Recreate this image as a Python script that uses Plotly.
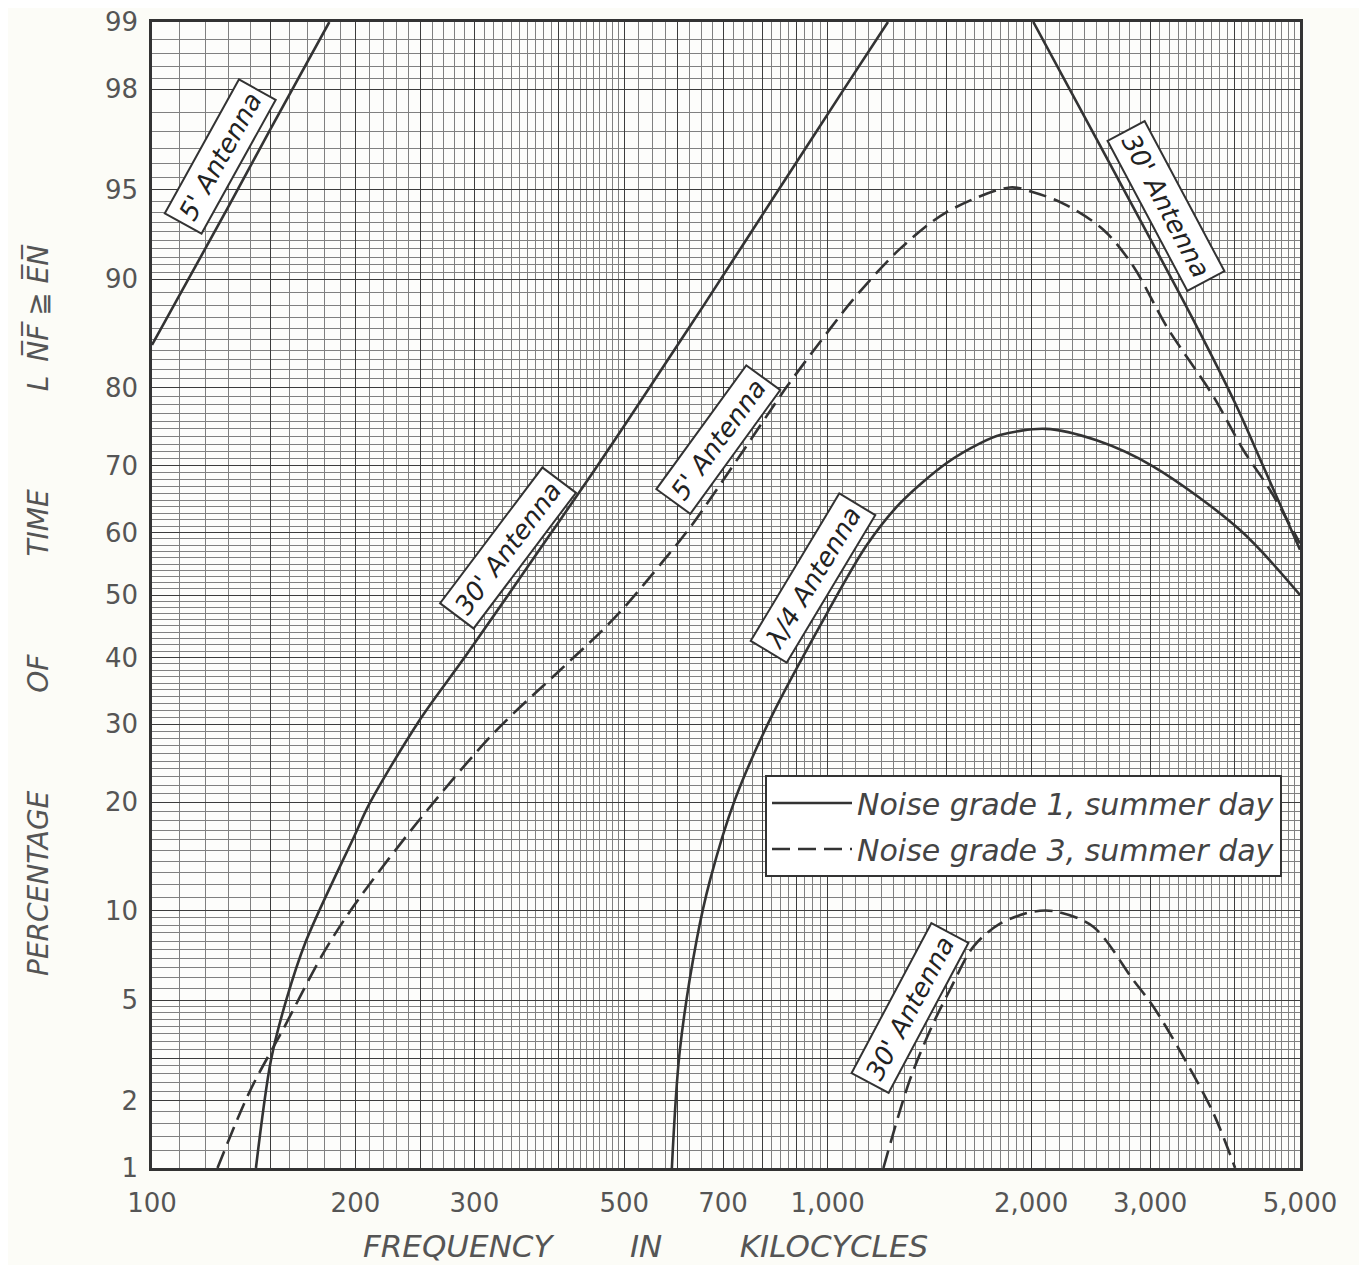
import math
from statistics import NormalDist
import plotly.graph_objects as go

# ---------------- data ----------------
# frequency in kc, percentage of time
ant5_g1_f = [100, 130, 150, 183]
ant5_g1_p = [84.5, 94.3, 97.1, 99.0]

ant30_g1_rise_f = [142.5, 150, 158, 169, 199, 210, 249, 292, 390, 460, 558, 655, 837, 1057, 1228]
ant30_g1_rise_p = [1.0, 2.95, 5.0, 8.0, 16.3, 19.9, 30.6, 40.4, 60.0, 70.5, 81.2, 88.0, 94.8, 98.0, 99.0]
ant30_g1_fall_f = [2015, 2529, 3476, 4030, 4413, 5000]
ant30_g1_fall_p = [99.0, 96.6, 86.8, 77.8, 69.9, 57.3]

ant5_g3_f = [125, 139.6, 156.4, 179.3, 198.6, 246.4, 320, 401.6, 460, 500, 571, 625.6, 750, 869.6, 1008, 1091,
             1279, 1500, 1861, 2015, 2232, 2558, 2833, 3175, 3722, 4122, 4514, 5000]
ant5_g3_p = [1.0, 2.2, 3.9, 7.3, 10.3, 17.7, 28.7, 38.0, 43.9, 48.0, 55.5, 60.8, 72.1, 80.1, 86.0, 88.5,
             92.0, 94.0, 95.1, 94.9, 94.4, 93.1, 90.9, 86.2, 79.0, 72.2, 66.5, 58.3]

quarter_g1_f = [588, 604, 640, 670, 729, 821, 997, 1142, 1279, 1500, 1680, 1799, 2100, 2500, 3034, 4076, 5000]
quarter_g1_p = [1.0, 3.2, 8.1, 12.4, 20.3, 30.6, 47.0, 58.0, 64.5, 70.4, 73.1, 74.2, 75.0, 73.5, 69.9, 60.4, 50.0]

ant30_g3_f = [1209, 1323, 1433, 1517, 1643, 1799, 2015, 2182, 2472, 2833, 3034, 3360, 3722, 4008]
ant30_g3_p = [1.0, 2.45, 4.1, 5.45, 7.67, 9.1, 9.93, 9.93, 8.9, 5.9, 4.73, 3.04, 1.77, 1.0]

x_major = [100, 150, 200, 250, 300, 400, 500, 600, 700, 800, 900, 1000, 1500, 2000, 3000, 4000, 5000]
x_labels = ["100", "", "200", "", "300", "", "500", "", "700", "", "", "1,000", "", "2,000", "3,000", "", "5,000"]
y_major = [1, 2, 3, 5, 10, 20, 30, 40, 50, 60, 70, 80, 90, 95, 98, 99]
y_labels = ["1", "2", "", "5", "10", "20", "30", "40", "50", "60", "70", "80", "90", "95", "98", "99"]

label_solid = "Noise grade 1, summer day"
label_dashed = "Noise grade 3, summer day"

# ---------------- helpers ----------------
ND = NormalDist()


def zscale(p):
    return ND.inv_cdf(p / 100.0)


def frange(a, b, step):
    out = []
    n = int(round((b - a) / step))
    for i in range(1, n):
        out.append(round(a + i * step, 4))
    return out


x_minor = (frange(100, 200, 10) + frange(200, 300, 10) + frange(300, 500, 10) +
           frange(500, 1000, 25) + frange(1000, 2000, 50) + frange(2000, 5000, 100))
x_minor = [v for v in x_minor if v not in x_major]
y_minor = (frange(1, 2, 0.2) + frange(2, 3, 0.2) + frange(3, 5, 0.25) + frange(5, 10, 0.5) +
           frange(10, 90, 1) + frange(90, 95, 0.5) + frange(95, 98, 0.5) + frange(98, 99, 0.2))
y_minor = [v for v in y_minor if v not in y_major]

INK = "#333333"
PAPER = "#fcfcf7"
FONT = "DejaVu Sans"

fig = go.Figure()


def add_curve(f, p, dash, name, show):
    fig.add_trace(go.Scatter(
        x=f, y=[zscale(v) for v in p], mode="lines", name=name,
        legendgroup=name, showlegend=show,
        line=dict(color=INK, width=2.6, dash=dash, shape="spline", smoothing=0.9),
        hoverinfo="skip"))


SOLID = "solid"
DASH = "18px,8px"
add_curve(ant5_g1_f, ant5_g1_p, SOLID, label_solid, True)
add_curve(ant30_g1_rise_f, ant30_g1_rise_p, SOLID, label_solid, False)
add_curve(ant30_g1_fall_f, ant30_g1_fall_p, SOLID, label_solid, False)
add_curve(quarter_g1_f, quarter_g1_p, SOLID, label_solid, False)
add_curve(ant5_g3_f, ant5_g3_p, DASH, label_dashed, True)
add_curve(ant30_g3_f, ant30_g3_p, DASH, label_dashed, False)

# ---------------- axes ----------------
TICKFONT = dict(family=FONT, size=26, color="#555555")
EPS = 1e-6
fig.update_xaxes(
    type="log", range=[math.log10(100) - EPS, math.log10(5000) + EPS],
    tickmode="array", tickvals=x_major, ticktext=x_labels,
    ticks="", showgrid=True, gridcolor="#3c3c3c", gridwidth=1.3,
    minor=dict(tickmode="array", tickvals=x_minor, showgrid=True, gridcolor="#808080", gridwidth=0.6, ticks=""),
    showline=True, mirror=True, linecolor=INK, linewidth=2.5,
    tickfont=TICKFONT, ticklabelstandoff=10, zeroline=False, ticklabeloverflow="allow",
    automargin=False,
)
fig.update_yaxes(
    range=[zscale(1) - EPS, zscale(99) + EPS],
    tickmode="array", tickvals=[zscale(v) for v in y_major], ticktext=y_labels,
    ticks="", showgrid=True, gridcolor="#3c3c3c", gridwidth=1.3,
    minor=dict(tickmode="array", tickvals=[zscale(v) for v in y_minor], showgrid=True,
               gridcolor="#808080", gridwidth=0.6, ticks=""),
    showline=True, mirror=True, linecolor=INK, linewidth=2.5,
    tickfont=TICKFONT, ticklabelstandoff=6, zeroline=False, ticklabeloverflow="allow",
    automargin=False,
)

# ---------------- labels ----------------
# plot area in screen pixels (page has an 8px body margin)
PLOT_L, PLOT_T, PLOT_W, PLOT_H = 152, 22, 1148, 1146


def px2paper(px, py):
    return (px - PLOT_L) / PLOT_W, (PLOT_T + PLOT_H - py) / PLOT_H


def box_label(text, px, py, angle):
    xp, yp = px2paper(px, py)
    fig.add_annotation(
        x=xp, y=yp, xref="paper", yref="paper", xanchor="center", yanchor="middle",
        text=text, showarrow=False,
        textangle=angle, font=dict(family=FONT, size=26, color="#222222", style="italic"),
        bgcolor="white", bordercolor=INK, borderwidth=2, borderpad=5)


box_label("5' Antenna", 220, 157, -61)
box_label("30' Antenna", 508, 548, -53)
box_label("5' Antenna", 718, 440, -54)
box_label("\u03bb/4 Antenna", 813, 578, -59)
box_label("30' Antenna", 1166, 206, 62)
box_label("30' Antenna", 910, 1008, -62)

# axis titles
GAP_X = "\u2003\u2003\u2002"
xp, yp = px2paper(645, 1246)
fig.add_annotation(x=xp, y=yp, xref="paper", yref="paper", xanchor="center", yanchor="middle",
                   showarrow=False,
                   text="FREQUENCY" + GAP_X + "IN" + GAP_X + "KILOCYCLES",
                   font=dict(family=FONT, size=31, color="#555555", style="italic"))
GAP_Y = "\u2003\u2003\u2003\u2002"
xp, yp = px2paper(38, 610)
fig.add_annotation(x=xp, y=yp, xref="paper", yref="paper", xanchor="center", yanchor="middle",
                   showarrow=False, textangle=-90,
                   text="PERCENTAGE" + GAP_Y + "OF" + GAP_Y + "TIME" + GAP_Y +
                        "L\u2002N\u0305F\u0305 \u2267 E\u0305N\u0305",
                   font=dict(family=FONT, size=28, color="#555555", style="italic"))

lx, ly = px2paper(765, 775)
fig.update_layout(
    width=1351, height=1257,
    margin=dict(l=144, r=59, t=14, b=97, autoexpand=False),
    paper_bgcolor=PAPER, plot_bgcolor="#fdfdfb",
    showlegend=True,
    legend=dict(x=lx, y=ly, xanchor="left", yanchor="top",
                bgcolor="white", bordercolor=INK, borderwidth=2,
                font=dict(family=FONT, size=30, color="#444444", style="italic"),
                itemwidth=80, tracegroupgap=4),
)

fig.write_html("out.html")
